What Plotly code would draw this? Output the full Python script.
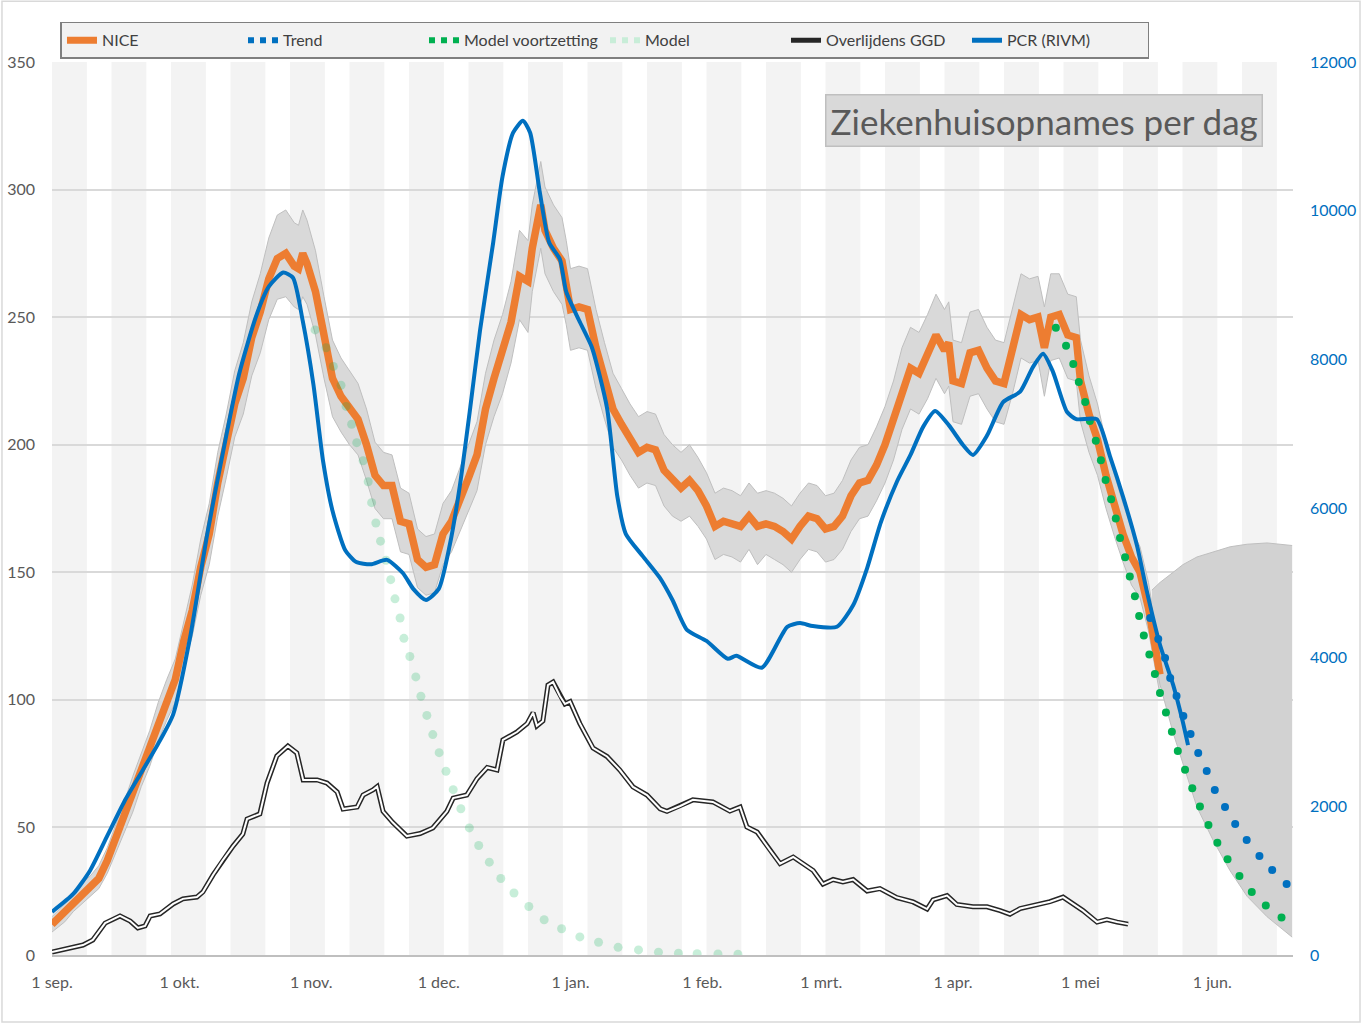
import plotly.graph_objects as go
import pandas as pd

BASE = pd.Timestamp("2020-09-01")

# ---------------- data (day offsets from 1 Sep 2020) ----------------
nice_day = [0, 3, 5, 7, 9, 11, 13, 15, 17, 19, 21, 23, 25, 27, 29, 31, 33, 35, 37, 39,
            41, 43, 45, 47, 49, 51, 53, 55, 57, 58, 59, 60, 62, 64, 66, 68, 70, 72, 74, 76,
            78, 80, 82, 84, 86, 88, 90, 92, 94, 96, 98, 100, 102, 104, 106, 108, 110, 112, 113, 115,
            116, 118, 120, 121, 122, 124, 126, 128, 130, 132, 134, 136, 138, 140, 142, 144, 146, 148, 150, 152,
            154, 156, 158, 160, 162, 164, 166, 168, 170, 172, 174, 176, 178, 180, 182, 184, 186, 188, 190, 192,
            194, 196, 198, 200, 202, 204, 206, 208, 210, 211, 212, 214, 216, 218, 220, 222, 224, 226, 228, 230,
            232, 233.5, 235, 237, 239, 241, 242, 244, 246, 248, 250, 252, 254, 256, 258, 260.7]
nice_val = [12, 17, 20, 24, 27, 30, 37, 46, 54, 63, 73, 81, 91, 100, 108, 123, 135, 152, 165, 185,
            200, 216, 226, 242, 252, 265, 273, 275, 270, 269, 275, 271, 260, 242, 226, 219, 214, 210, 200, 188,
            184, 184, 170, 169, 155, 152, 153, 165, 170, 178, 187, 196, 214, 226, 236, 248, 266, 264, 277, 294,
            284, 277, 272, 264, 253, 254, 253, 238, 225, 214, 208, 202, 197, 199, 198, 190, 186, 183, 186, 182,
            176, 168, 170, 169, 168, 172, 168, 169, 168, 166, 163, 168, 172, 171, 167, 168, 172, 180, 185, 186,
            192, 200, 210, 222, 230, 228, 235, 243, 237, 240, 225, 224, 236, 237, 230, 225, 224, 238, 251, 249,
            250, 238, 250, 251, 243, 242, 225, 212, 202, 188, 176, 165, 156, 150, 136, 110]
nice_lo = [9, 13, 17, 20, 23, 26, 32, 40, 48, 56, 66, 74, 84, 92, 99, 113, 125, 141, 153, 172,
           187, 203, 212, 227, 236, 249, 257, 258, 254, 253, 258, 255, 243, 226, 211, 205, 200, 196, 186, 175,
           171, 171, 158, 157, 144, 141, 142, 153, 158, 166, 174, 182, 200, 211, 220, 232, 249, 244, 260, 277,
           267, 260, 255, 247, 237, 238, 237, 222, 210, 199, 194, 188, 183, 185, 184, 176, 172, 170, 172, 168,
           163, 155, 157, 156, 154, 159, 153, 157, 155, 153, 150, 155, 159, 158, 154, 155, 159, 166, 171, 172,
           178, 185, 194, 206, 214, 212, 218, 226, 220, 223, 209, 208, 219, 220, 214, 209, 208, 220, 234, 232,
           233, 219, 233, 234, 226, 225, 209, 197, 188, 175, 164, 154, 145, 140, 127, 102]
nice_hi = [15, 20, 24, 28, 31, 35, 42, 51, 60, 70, 79, 88, 99, 108, 116, 131, 145, 163, 177, 197,
           212, 229, 240, 256, 267, 281, 290, 292, 287, 286, 292, 288, 276, 258, 241, 234, 229, 224, 214, 201,
           197, 196, 183, 181, 167, 164, 165, 177, 182, 191, 200, 209, 228, 241, 251, 264, 284, 280, 294, 311,
           301, 294, 289, 280, 269, 270, 269, 253, 240, 228, 222, 216, 211, 213, 212, 204, 200, 197, 200, 195,
           189, 181, 183, 182, 180, 185, 181, 182, 181, 179, 176, 181, 185, 184, 180, 181, 186, 194, 199, 200,
           207, 215, 225, 238, 246, 244, 251, 259, 253, 256, 241, 240, 252, 253, 246, 241, 240, 254, 267, 265,
           266, 254, 267, 267, 259, 258, 241, 227, 216, 201, 188, 177, 167, 160, 146, 118]

pcr_day = [0, 5, 9, 13, 17, 21, 25, 28.5, 32.5, 36.5, 40, 44, 48, 51, 54.4, 56.7, 59, 61.5, 63.8, 66,
           69, 71.6, 75, 78.8, 82.6, 85, 88, 91, 93.6, 96, 98.4, 100.7, 103.8, 106, 108.5, 110.8, 112.5, 114.8, 117, 119.5,
           121, 124, 127, 130.6, 133, 135, 139, 143, 146, 149.4, 154, 159, 161, 167, 173, 176, 179, 184.7, 188.5, 191.8,
           195, 198.8, 202, 205, 207.8, 211, 214.4, 216.7, 220, 223.8, 227.8, 230.8, 233.2, 235.5, 238.8, 241, 245.8, 249, 252, 255.3,
           257.6, 260.7, 263.8, 266, 267.3]
pcr_val = [580, 820, 1140, 1600, 2060, 2450, 2840, 3230, 4270, 5650, 6690, 7800, 8580, 8980, 9170, 9100, 8520, 7670, 6630, 5970,
           5440, 5280, 5250, 5310, 5130, 4920, 4770, 4920, 5510, 6320, 7350, 8390, 9570, 10460, 11050, 11210, 11050, 10240, 9570, 9350,
           8910, 8530, 8170, 7350, 6170, 5660, 5360, 5070, 4770, 4370, 4220, 3980, 4020, 3860, 4410, 4460, 4420, 4410, 4700, 5200,
           5810, 6360, 6720, 7100, 7310, 7120, 6850, 6720, 6980, 7430, 7570, 7900, 8080, 7840, 7300, 7200, 7200, 6690, 6160, 5500,
           4890, 4170, 3630, 3150, 2820]

ggd_day = [0, 7.3, 9.6, 11.8, 12.5, 16, 18.4, 20.2, 21.9, 23.1, 25.4, 28.5, 30.8, 34.1, 35.5, 37.9, 40.2, 42.6, 44.9, 45.9,
           48.9, 50.6, 52.9, 55.5, 57.6, 59.1, 62.4, 64.7, 67.1, 68.5, 71.8, 73.2, 75.5, 76.5, 77.9, 80.2, 83.5, 86.6, 89.6, 92.9,
           94.4, 97.6, 100, 102.4, 104.7, 106.1, 109.4, 111.8, 113.2, 114.1, 115.5, 116.7, 117.9, 119.5, 120.7, 121.9, 124.2, 127.3, 130.6, 133.6,
           136.7, 140, 143.1, 144.7, 147.8, 150.8, 155.5, 159.5, 161.9, 163.5, 165.9, 168.9, 171.3, 174.4, 176.7, 179.1, 181.4, 183.8, 186.1, 188.5,
           191.8, 194.8, 198.8, 202.6, 205.9, 207.3, 210.6, 212.9, 216.7, 220, 223.1, 225.4, 227.8, 232.5, 234.8, 237.9, 240.2, 242.6, 245.9, 248.2,
           250.6, 253.2]
ggd_val = [1.2, 3.9, 5.9, 10.6, 12.5, 15.3, 13.3, 10.6, 11.4, 15.3, 16.1, 20, 22, 22.7, 24.7, 31.4, 37.2, 42.7, 47.4, 53.3,
           55.3, 67.4, 78, 81.9, 79.2, 68.6, 68.6, 67.4, 63.9, 57.2, 58, 62.7, 64.7, 66, 56.3, 51.9, 46.6, 47.6, 49.8, 56.3,
           61.5, 62.7, 69.1, 73.5, 72.5, 84.3, 87.4, 90.7, 95, 89.8, 91.7, 105.8, 107, 101.5, 98.4, 99.3, 90.7, 81.1, 77.8, 72.5,
           65.9, 62.7, 57.3, 56.3, 58.4, 60.8, 60, 56.4, 58, 50.2, 48.2, 41.2, 35.8, 38.4, 35.8, 33.1, 27.8, 29.6, 28.6, 29.6,
           25.1, 26, 22.5, 20.8, 18, 21.6, 23.3, 19.8, 18.9, 18.9, 17.4, 16, 18.2, 20, 20.9, 22.7, 20, 17.4, 12.9, 13.9,
           12.9, 12.1]

model_day = [61.9, 64.5, 66.2, 68.0, 69.2, 70.5, 71.7, 73.2, 74.4, 75.2, 76.2, 77.3, 78.6, 79.7, 80.7, 81.9, 82.8, 84.2, 85.6, 86.8,
             88.2, 89.6, 91.1, 92.7, 94.4, 96.2, 98.2, 100.4, 102.9, 105.6, 108.7, 112.2, 115.8, 119.9, 124.2, 128.6, 133.2, 138.0, 142.7, 147.4,
             151.8, 156.7, 161.4]
model_val = [245, 238, 230.7, 223.3, 215, 208, 200.8, 193.7, 185.5, 177.3, 169.3, 162.2, 154.7, 147.1, 139.6, 132.1, 124.1, 117, 109, 101.4,
             93.9, 86.4, 79.3, 72, 64.8, 57.3, 49.8, 42.9, 36.4, 30, 24.3, 19, 13.8, 10.3, 7.1, 5.0, 3.0, 2.0, 1.1, 0.7,
             0.5, 0.4, 0.3]

cont_day = [236.2, 238.6, 240.3, 241.6, 243.1, 244.2, 245.6, 246.8, 247.9, 249.2, 250.3, 251.3, 252.5, 253.6, 254.8, 255.8, 256.9, 258.2, 259.5, 260.7,
            262.1, 263.5, 264.9, 266.6, 268.3, 270.1, 272.1, 274.2, 276.6, 279.4, 282.3, 285.6, 289.3]
cont_val = [245.8, 238.8, 231.6, 224.6, 216.7, 209.3, 201.6, 193.9, 186.2, 178.6, 171.1, 163.4, 155.9, 148.3, 140.6, 132.9, 125.2, 117.8, 110.1, 102.7,
            95.0, 87.5, 80.0, 72.6, 65.4, 58.2, 51.0, 44.0, 37.5, 31.0, 24.7, 19.4, 14.7]

trend_day = [258.4, 260.3, 261.9, 263.1, 264.6, 266.2, 267.9, 269.7, 271.7, 273.6, 276.0, 278.4, 281.1, 284.1, 287.1, 290.5]
trend_val = [4529, 4247, 3992, 3723, 3481, 3212, 2970, 2715, 2473, 2218, 1989, 1761, 1546, 1331, 1142, 954]

cone_day = [258.8, 260.7, 263.8, 266.1, 269.4, 273.2, 277.2, 281.2, 285.9, 291.8]
cone_lo = [122, 106, 87, 75, 58, 45, 33, 23, 15, 7]
cone_hi = [143, 146, 150, 153, 156, 158, 160, 161, 161.5, 160.5]

tick_dates = ["2020-09-01", "2020-10-01", "2020-11-01", "2020-12-01", "2021-01-01",
              "2021-02-01", "2021-03-01", "2021-04-01", "2021-05-01", "2021-06-01"]
tick_text = ["1 sep.", "1 okt.", "1 nov.", "1 dec.", "1 jan.", "1 feb.", "1 mrt.", "1 apr.", "1 mei", "1 jun."]
left_ticks = [0, 50, 100, 150, 200, 250, 300, 350]
right_ticks = [0, 2000, 4000, 6000, 8000, 10000, 12000]


def dates(days):
    return [BASE + pd.Timedelta(days=float(d)) for d in days]


FONT = "Lato, 'Open Sans', sans-serif"
ORANGE = "#ED7D31"
BLUE = "#0070C0"
GREEN = "#00B050"
PALE = "rgba(0,176,80,0.22)"

fig = go.Figure()

# legend-only entries (order matches the reference legend)
fig.add_trace(go.Scatter(x=[None], y=[None], mode="lines", name="NICE",
                         line=dict(color=ORANGE, width=7), legendgroup="nice"))
fig.add_trace(go.Scatter(x=[None], y=[None], mode="lines", name="Trend",
                         line=dict(color=BLUE, width=6, dash="dot"), legendgroup="trend"))
fig.add_trace(go.Scatter(x=[None], y=[None], mode="lines", name="Model voortzetting",
                         line=dict(color=GREEN, width=6, dash="dot"), legendgroup="cont"))
fig.add_trace(go.Scatter(x=[None], y=[None], mode="lines", name="Model",
                         line=dict(color="#C8EDD8", width=6, dash="dot"), legendgroup="model"))
fig.add_trace(go.Scatter(x=[None], y=[None], mode="lines", name="Overlijdens GGD",
                         line=dict(color="#262626", width=5), legendgroup="ggd"))
fig.add_trace(go.Scatter(x=[None], y=[None], mode="lines", name="PCR (RIVM)",
                         line=dict(color=BLUE, width=5), legendgroup="pcr"))

# NICE uncertainty band
fig.add_trace(go.Scatter(x=dates(nice_day), y=nice_lo, mode="lines", showlegend=False,
                         line=dict(color="#BFBFBF", width=1), legendgroup="nice", hoverinfo="skip"))
fig.add_trace(go.Scatter(x=dates(nice_day), y=nice_hi, mode="lines", showlegend=False, fill="tonexty",
                         fillcolor="#D9D9D9", line=dict(color="#BFBFBF", width=1), legendgroup="nice",
                         hoverinfo="skip"))
# projection cone
fig.add_trace(go.Scatter(x=dates(cone_day), y=cone_lo, mode="lines", showlegend=False,
                         line=dict(color="#BFBFBF", width=1), hoverinfo="skip"))
fig.add_trace(go.Scatter(x=dates(cone_day), y=cone_hi, mode="lines", showlegend=False, fill="tonexty",
                         fillcolor="#D2D2D2", line=dict(color="#BFBFBF", width=1), hoverinfo="skip"))

# NICE line
fig.add_trace(go.Scatter(x=dates(nice_day), y=nice_val, mode="lines", showlegend=False, name="NICE",
                         line=dict(color=ORANGE, width=7.5), legendgroup="nice"))
# PCR (right axis)
fig.add_trace(go.Scatter(x=dates(pcr_day), y=pcr_val, mode="lines", showlegend=False, name="PCR (RIVM)",
                         line=dict(color=BLUE, width=4, shape="spline", smoothing=0.6),
                         yaxis="y2", legendgroup="pcr"))
# Overlijdens GGD: double line
fig.add_trace(go.Scatter(x=dates(ggd_day), y=ggd_val, mode="lines", showlegend=False, name="Overlijdens GGD",
                         line=dict(color="#262626", width=5), legendgroup="ggd"))
fig.add_trace(go.Scatter(x=dates(ggd_day), y=ggd_val, mode="lines", showlegend=False,
                         line=dict(color="#FFFFFF", width=2), legendgroup="ggd", hoverinfo="skip"))
# Model (pale dots)
fig.add_trace(go.Scatter(x=dates(model_day), y=model_val, mode="markers", showlegend=False, name="Model",
                         marker=dict(color=PALE, size=9), legendgroup="model"))
# Model voortzetting (green dots)
fig.add_trace(go.Scatter(x=dates(cont_day), y=cont_val, mode="markers", showlegend=False,
                         name="Model voortzetting", marker=dict(color=GREEN, size=8), legendgroup="cont"))
# Trend (blue dots, right axis)
fig.add_trace(go.Scatter(x=dates(trend_day), y=trend_val, mode="markers", showlegend=False, name="Trend",
                         marker=dict(color=BLUE, size=8), yaxis="y2", legendgroup="trend"))

# alternating background stripes
shapes = []
for k in range(21):
    x0 = BASE + pd.Timedelta(days=14 * k)
    x1 = BASE + pd.Timedelta(days=14 * k + 8.2)
    shapes.append(dict(type="rect", xref="x", yref="paper", x0=x0, x1=x1, y0=0, y1=1,
                       fillcolor="#F3F3F3", line=dict(width=0), layer="below"))
# outer chart border
shapes.append(dict(type="rect", xref="paper", yref="paper", x0=-0.0403, x1=1.054, y0=-0.075, y1=1.068,
                   line=dict(color="#D9D9D9", width=1.5), fillcolor="rgba(0,0,0,0)", layer="below"))

fig.update_layout(
    width=1362, height=1025,
    margin=dict(l=52, r=69, t=62, b=70, autoexpand=False),
    paper_bgcolor="white", plot_bgcolor="white",
    font=dict(family=FONT, size=16, color="#595959"),
    shapes=shapes,
    showlegend=True,
    legend=dict(orientation="h", x=0.4456, xanchor="center", y=1.045, yanchor="top",
                bgcolor="#F2F2F2", bordercolor="#7F7F7F", borderwidth=1.5,
                font=dict(family=FONT, size=16, color="#404040"),
                entrywidth=136, entrywidthmode="pixels", traceorder="normal"),
    xaxis=dict(type="date", range=[BASE, BASE + pd.Timedelta(days=292)], automargin=False,
               tickvals=tick_dates, ticktext=tick_text, showgrid=False,
               showline=True, linecolor="#BFBFBF", linewidth=1.5, ticks="",
               ticklabelstandoff=12, tickfont=dict(size=16, color="#595959"), zeroline=False),
    yaxis=dict(range=[0, 350], tickvals=left_ticks, automargin=False,
               showgrid=True, gridcolor="#D9D9D9", gridwidth=1.5, zeroline=False,
               ticks="", ticklabelstandoff=16, tickfont=dict(size=16, color="#595959")),
    yaxis2=dict(range=[0, 12000], tickvals=right_ticks, tickformat="d", automargin=False,
                overlaying="y", side="right", showgrid=False, zeroline=False, ticks="",
                ticklabelstandoff=16, tickfont=dict(size=16, color=BLUE)),
    annotations=[dict(text="Ziekenhuisopnames per dag", xref="paper", yref="paper",
                      x=0.799, y=0.934, xanchor="center", yanchor="middle", showarrow=False,
                      font=dict(family=FONT, size=35, color="#595959"),
                      bgcolor="#D9D9D9", bordercolor="#BFBFBF", borderwidth=1.5, borderpad=4)],
)

fig.write_html("out.html", config={"displayModeBar": False},
               post_script="document.body.style.margin='0';document.body.style.overflow='hidden';")
